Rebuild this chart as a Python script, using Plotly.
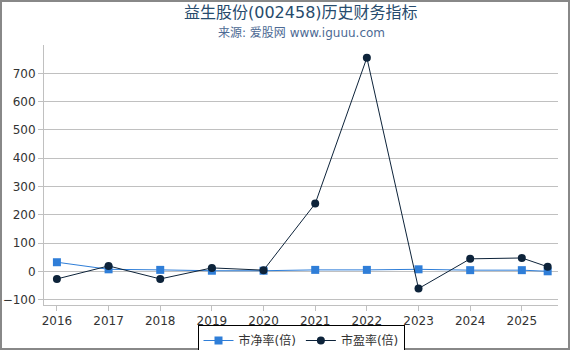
import plotly.graph_objects as go

x_vals = [2016, 2017, 2018, 2019, 2020, 2021, 2022, 2023, 2024, 2025, 2025.5]
pb_vals = [33, 8, 6, 3, 3, 6, 6, 8, 5, 5, 1]
pe_vals = [-26, 20, -26, 13, 5, 240, 755, -60, 45, 48, 17]
year_ticks = [2016, 2017, 2018, 2019, 2020, 2021, 2022, 2023, 2024, 2025]
y_ticks = [-100, 0, 100, 200, 300, 400, 500, 600, 700]

W, H = 570, 350
ML, MR, MT, MB = 44, 12, 45, 45
PW, PH = W - ML - MR, H - MT - MB

fig = go.Figure()
fig.add_trace(go.Scatter(
    x=x_vals, y=pb_vals, name="市净率(倍)", mode="lines+markers",
    line=dict(color="#2f7ed8", width=1),
    marker=dict(symbol="square", size=8, color="#2f7ed8"),
))
fig.add_trace(go.Scatter(
    x=x_vals, y=pe_vals, name="市盈率(倍)", mode="lines+markers",
    line=dict(color="#0d233a", width=1),
    marker=dict(symbol="circle", size=8, color="#0d233a"),
))

fig.update_layout(
    width=W, height=H,
    margin=dict(l=ML, r=MR, t=MT, b=MB, autoexpand=False),
    paper_bgcolor="white", plot_bgcolor="white",
    font=dict(family="DejaVu Sans, Noto Sans CJK SC", size=12, color="#333333"),
    showlegend=True,
    legend=dict(
        orientation="h", x=0.5, xanchor="center",
        y=(H - MB - 325) / PH, yanchor="top",
        bordercolor="black", borderwidth=1, bgcolor="white",
        font=dict(size=12, color="#333333"),
        itemwidth=30,
    ),
    xaxis=dict(
        range=[2015.75, 2025.7], tickmode="array", tickvals=year_ticks,
        ticktext=[str(v) for v in year_ticks],
        showgrid=False, showline=True, linecolor="#c0c0c0", linewidth=1,
        ticks="outside", tickcolor="#c0c0c0", ticklen=5, zeroline=False,
        tickfont=dict(size=12, color="#333333"),
    ),
    yaxis=dict(
        range=[-118, 800], tickmode="array", tickvals=y_ticks,
        showgrid=True, gridcolor="#c0c0c0", gridwidth=1,
        showline=True, linecolor="#c0c0c0", linewidth=1,
        ticks="outside", tickcolor="#c0c0c0", ticklen=5, zeroline=False,
        tickfont=dict(size=12, color="#333333"),
    ),
    annotations=[
        dict(text="益生股份(002458)历史财务指标", xref="paper", yref="paper",
             x=0.5, y=1 + (MT - 1) / PH, xanchor="center", yanchor="top", showarrow=False,
             font=dict(size=16, color="#274b6d")),
        dict(text="来源: 爱股网 www.iguuu.com", xref="paper", yref="paper",
             x=0.5, y=1 + (MT - 24) / PH, xanchor="center", yanchor="top", showarrow=False,
             font=dict(size=12, color="#4d6a94")),
    ],
    shapes=[dict(type="rect", xref="paper", yref="paper",
                 x0=-(ML - 1) / PW, x1=1 + (MR - 1) / PW, y0=-(MB - 1) / PH, y1=1 + (MT - 1) / PH,
                 line=dict(color="#888888", width=2), fillcolor="rgba(0,0,0,0)", layer="above")],
)

fig.write_html("out.html")
